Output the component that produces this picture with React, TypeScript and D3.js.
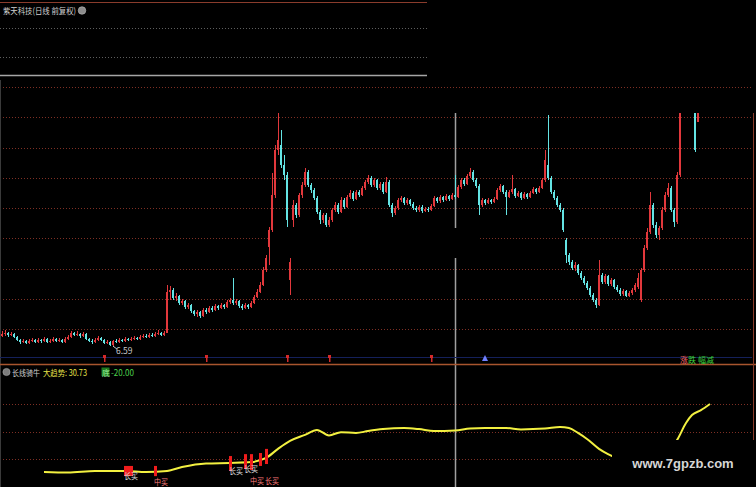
import { useEffect, useRef } from 'react';
import * as d3 from 'd3';

const W = 756;
const H = 487;
const FONT = '"Noto Sans CJK SC", "Noto Sans", sans-serif';

// Daily candles (前复权)
const opens = [
  7.6, 7.8, 7.9, 7.7, 7.8, 7.5, 7.2, 7.0, 7.1, 6.9, 7.1, 7.2, 7.0, 7.2, 7.1, 7.3, 7.0, 7.1, 7.3, 7.1,
  7.2, 7.0, 7.3, 7.5, 7.9, 7.7, 7.8, 7.6, 7.8, 7.3, 7.1, 7.0, 7.2, 7.4, 7.2, 6.9, 7.0, 6.7, 7.1, 7.0,
  7.2, 7.1, 7.3, 7.2, 7.3, 7.4, 7.3, 7.5, 7.6, 7.5, 7.7, 7.6, 7.8, 7.9, 7.7,
  7.9, 12.0, 12.2, 11.4, 11.6, 10.9, 11.1, 10.5, 10.7, 10.1,
  9.8, 10.0, 9.6, 10.2, 10.0, 10.4, 10.2, 10.6, 10.4, 10.7,
  10.5, 11.0, 11.2, 10.9, 11.1, 10.6, 10.4, 10.7, 10.5, 10.9,
  11.5, 12.0, 12.7, 14.2, 16.5, 18.2, 21.7, 26.2, 26.7, 24.7,
  23.7, 13.2, 19.2, 20.7, 19.7, 21.7, 22.7, 24.0, 22.7, 22.2,
  21.4, 20.0, 19.2, 19.7, 18.7, 19.2, 20.2, 20.7, 20.0, 21.2,
  20.5, 21.5, 21.9, 21.3, 22.0, 21.7, 22.4, 23.0, 23.4, 22.7,
  23.2, 22.4, 22.8, 22.0, 23.0, 20.7, 19.9, 20.4, 21.2, 21.4,
  20.9, 21.2, 20.8, 20.4, 20.2, 20.5, 20.1, 20.3, 20.2, 20.6,
  21.4, 21.1, 21.5, 21.2, 21.6, 21.3, 21.7, 21.5, 22.5, 23.2,
  22.8, 23.6, 24.0, 23.2, 22.6, 20.7, 21.2, 20.9, 21.2, 21.0,
  21.3, 22.2, 22.6, 22.0, 21.5, 22.0, 22.3, 21.6, 21.9, 21.4,
  21.8, 21.5, 21.9, 22.3, 22.0, 22.4, 23.2, 24.7, 23.4, 22.0,
  21.4, 20.7, 20.2, 17.2, 15.7, 15.0, 14.4, 14.7, 13.9, 13.4,
  12.9, 12.4, 11.7, 11.2, 10.7, 13.7, 13.0, 13.6, 12.8, 13.2,
  12.5, 12.2, 11.8, 12.1, 11.6, 11.9, 12.2, 12.5, 11.2, 14.2,
  16.4, 18.0, 20.7, 18.7, 17.7, 18.4, 20.2, 21.7, 22.4, 20.2,
  19.0, 23.7, 31.2, 33.2, 34.2, 32.7, 31.2, 29.0,
  31.7, 33.2, 34.2, 35.2,
];

const closes = [
  7.8, 7.9, 7.7, 7.8, 7.5, 7.2, 7.0, 7.1, 6.9, 7.1, 7.2, 7.0, 7.2, 7.1, 7.3, 7.0, 7.1, 7.3, 7.1, 7.2,
  7.0, 7.3, 7.5, 7.9, 7.7, 7.8, 7.6, 7.8, 7.3, 7.1, 7.0, 7.2, 7.4, 7.2, 6.9, 7.0, 6.7, 7.1, 7.0, 7.2,
  7.1, 7.3, 7.2, 7.3, 7.4, 7.3, 7.5, 7.6, 7.5, 7.7, 7.6, 7.8, 7.9, 7.7, 7.9,
  12.0, 12.2, 11.4, 11.6, 10.9, 11.1, 10.5, 10.7, 10.1, 9.8,
  10.0, 9.6, 10.2, 10.0, 10.4, 10.2, 10.6, 10.4, 10.7, 10.5,
  11.0, 11.2, 10.9, 11.1, 10.6, 10.4, 10.7, 10.5, 10.9, 11.5,
  12.0, 12.7, 14.2, 15.4, 18.2, 21.7, 26.2, 27.2, 24.7, 23.7,
  19.2, 15.0, 20.7, 19.7, 21.7, 22.7, 24.0, 22.7, 22.2, 21.4,
  20.0, 19.2, 19.7, 18.7, 19.2, 20.2, 20.7, 20.0, 21.2, 20.5,
  21.5, 21.9, 21.3, 22.0, 21.7, 22.4, 23.0, 23.4, 22.7, 23.2,
  22.4, 22.8, 22.0, 23.0, 20.7, 19.9, 20.4, 21.2, 21.4, 20.9,
  21.2, 20.8, 20.4, 20.2, 20.5, 20.1, 20.3, 20.2, 20.6, 21.4,
  21.1, 21.5, 21.2, 21.6, 21.3, 21.7, 21.5, 22.5, 23.2, 22.8,
  23.6, 24.0, 23.2, 22.6, 20.7, 21.2, 20.9, 21.2, 21.0, 21.3,
  22.2, 22.6, 22.0, 21.5, 22.0, 22.3, 21.6, 21.9, 21.4, 21.8,
  21.5, 21.9, 22.3, 22.0, 22.4, 23.2, 25.2, 23.4, 22.0, 21.4,
  20.7, 20.2, 18.2, 15.7, 15.0, 14.4, 14.7, 13.9, 13.4, 12.9,
  12.4, 11.7, 11.2, 10.7, 13.7, 13.0, 13.6, 12.8, 13.2, 12.5,
  12.2, 11.8, 12.1, 11.6, 11.9, 12.2, 12.7, 13.4, 14.2, 16.4,
  18.0, 20.7, 18.7, 17.7, 18.4, 20.2, 21.7, 22.4, 20.2, 19.0,
  23.7, 30.2, 33.2, 34.2, 32.7, 31.7, 26.2, 31.2,
  33.2, 34.2, 35.2, 34.7,
];

const highs = [
  8.1, 8.2, 8.0, 8.0, 7.9, 7.6, 7.3, 7.3, 7.2, 7.3, 7.4, 7.3, 7.4, 7.3, 7.5, 7.4, 7.3, 7.5, 7.4, 7.4,
  7.3, 7.5, 7.7, 8.1, 8.0, 8.1, 7.9, 8.0, 7.9, 7.4, 7.3, 7.4, 7.6, 7.5, 7.3, 7.2, 7.1, 7.2, 7.3, 7.4,
  7.3, 7.5, 7.4, 7.5, 7.6, 7.5, 7.7, 7.8, 7.8, 7.9, 7.9, 8.0, 8.2, 8.0, 8.1,
  12.7, 12.6, 12.4, 11.9, 11.7, 11.3, 11.2, 10.9, 10.8, 10.2,
  10.2, 10.1, 10.4, 10.4, 10.6, 10.6, 10.8, 10.7, 10.9, 10.8,
  11.2, 11.4, 13.4, 11.3, 11.2, 10.8, 10.9, 10.8, 11.1, 11.7,
  12.3, 13.0, 14.5, 15.7, 18.5, 23.9, 26.7, 29.9, 28.2, 25.7,
  24.0, 15.4, 21.2, 20.9, 21.9, 23.0, 24.4, 24.2, 22.9, 22.4,
  21.6, 20.2, 19.9, 19.9, 19.5, 20.4, 21.0, 20.9, 21.5, 21.4,
  21.7, 22.2, 22.1, 22.2, 22.2, 22.6, 23.2, 23.7, 23.6, 23.4,
  23.3, 23.0, 23.0, 23.5, 23.2, 20.9, 20.6, 21.4, 21.6, 21.5,
  21.4, 21.3, 21.0, 20.6, 20.7, 20.7, 20.5, 20.5, 20.8, 21.6,
  21.5, 21.7, 21.6, 21.8, 21.7, 21.9, 23.7, 22.7, 23.4, 23.4,
  23.8, 24.4, 24.2, 23.4, 22.8, 21.4, 21.3, 21.4, 21.3, 21.5,
  22.4, 22.8, 22.7, 22.2, 22.2, 23.7, 22.4, 22.1, 22.0, 22.0,
  21.9, 22.1, 22.5, 22.4, 22.6, 23.4, 26.2, 29.7, 23.6, 22.2,
  21.6, 20.9, 20.4, 17.4, 15.9, 15.2, 15.0, 14.8, 14.1, 13.6,
  13.1, 12.6, 11.9, 11.4, 15.2, 13.9, 13.8, 13.7, 13.4, 13.3,
  12.7, 12.4, 12.3, 12.2, 12.1, 12.4, 12.9, 13.9, 14.4, 16.7,
  18.4, 22.0, 20.9, 19.0, 18.6, 20.5, 22.0, 22.9, 22.6, 20.4,
  24.0, 30.7, 33.7, 34.7, 34.4, 33.0, 31.7, 31.7,
  33.7, 35.0, 35.7, 36.2,
];

const lows = [
  7.5, 7.6, 7.5, 7.6, 7.4, 7.1, 6.8, 6.9, 6.8, 6.8, 7.0, 6.9, 6.9, 6.9, 7.0, 6.9, 6.9, 7.0, 7.0, 7.0,
  6.9, 6.9, 7.2, 7.4, 7.6, 7.6, 7.4, 7.5, 7.2, 7.0, 6.8, 6.9, 7.1, 7.1, 6.8, 6.8, 6.65, 6.59, 6.9, 6.9,
  7.0, 7.0, 7.1, 7.1, 7.2, 7.2, 7.2, 7.4, 7.4, 7.4, 7.5, 7.5, 7.7, 7.6, 7.6,
  7.9, 11.2, 11.2, 11.1, 10.7, 10.7, 10.3, 10.3, 9.9, 9.6,
  9.5, 9.4, 9.5, 9.8, 9.9, 10.0, 10.1, 10.2, 10.3, 10.3,
  10.4, 10.8, 10.7, 10.7, 10.4, 10.2, 10.3, 10.3, 10.4, 10.8,
  11.4, 11.9, 12.6, 14.0, 14.7, 18.0, 21.4, 25.7, 24.4, 23.2,
  18.5, 11.7, 18.5, 19.4, 19.5, 21.4, 22.5, 22.5, 21.9, 21.2,
  19.8, 18.8, 18.9, 18.5, 18.5, 19.0, 20.0, 19.8, 19.9, 20.3,
  20.4, 21.3, 21.1, 21.2, 21.5, 21.6, 22.2, 22.8, 22.5, 22.5,
  22.2, 22.2, 21.8, 21.9, 20.5, 19.5, 19.7, 20.2, 21.0, 20.7,
  20.7, 20.6, 20.2, 20.0, 20.0, 19.9, 20.0, 20.0, 20.1, 20.5,
  20.9, 20.9, 21.0, 21.1, 21.1, 21.2, 21.3, 21.4, 22.3, 22.6,
  22.7, 23.4, 23.0, 22.4, 19.7, 20.5, 20.7, 20.8, 20.8, 20.9,
  21.2, 22.0, 21.8, 19.7, 21.4, 21.8, 21.4, 21.5, 21.2, 21.3,
  21.3, 21.4, 21.8, 21.8, 21.9, 22.3, 23.0, 23.2, 21.8, 21.2,
  20.5, 20.0, 18.0, 14.9, 14.7, 14.2, 14.1, 13.7, 13.2, 12.7,
  12.2, 11.5, 11.0, 10.4, 10.6, 12.8, 12.8, 12.6, 12.6, 12.3,
  12.0, 11.6, 11.6, 11.5, 11.5, 11.7, 12.0, 12.3, 11.0, 14.0,
  16.2, 17.8, 18.4, 17.4, 17.2, 18.2, 20.0, 21.5, 20.0, 18.5,
  18.8, 23.5, 30.7, 32.7, 32.3, 31.2, 26.0, 29.0,
  31.2, 32.4, 33.4, 33.9,
];

// 长线骑牛 indicator: 大趋势 line, sampled at bar indices
const trendIdx = [
  14, 22, 31, 41, 48, 55, 60, 68, 76, 83, 88, 92, 96, 101, 105, 109, 113, 118, 122, 127,
  134, 139, 144, 151, 156, 161, 168, 173, 181, 186, 189, 192, 195, 199, 202, 205, 210, 215, 220, 225,
  228, 230, 233, 236,
];
const trendVals = [
  6.0, 5.8, 6.4, 6.4, 6.0, 6.4, 7.8, 9.1, 9.3, 9.6, 11.1, 14.4, 17.3, 19.5, 21.3, 19.3, 20.5, 20.2, 20.9, 21.6,
  22.0, 21.6, 20.9, 21.1, 21.8, 22.0, 22.0, 21.5, 21.8, 22.4, 22.0, 20.2, 18.0, 14.4, 12.5, 11.1, 9.6, 9.6, 12.2, 17.6,
  23.8, 26.7, 28.5, 30.73,
];

// buy signals (sticks + text)
const signalIdx = [41, 42, 43, 51, 76, 81, 83, 86, 88];
const signalTop = [8.2, 8.2, 8.2, 8.2, 11.8, 12.5, 12.5, 12.9, 14.4];
const signalBottom = [4.5, 4.5, 4.5, 4.5, 6.4, 7.1, 6.7, 8.2, 8.9];
const signalLabels = ['长买', '', '', '中买', '长买', '长买', '中买', '', '长买'];

// info markers under the price pane
const markerIdx = [34, 68, 95, 109, 143];
const blueMarkerIdx = [161];

const TITLE = '紫天科技(日线 前复权)';
const IND_NAME = '长线骑牛';
const TREND_NAME = '大趋势';
const FLOOR_NAME = '底';
const FLOOR_VALUE = -20;
const WATERMARK = 'www.7gpzb.com';

const UP = '#e2383c';
const DOWN = '#64e4e4';
const GRID = '#7e2f24';
const LABEL_WHITE = '#e4e4e4';
const LABEL_PINK = '#ff7c7c';

export default function App() {
  const svgRef = useRef<SVGSVGElement>(null);

  useEffect(() => {
    if (!svgRef.current) return;
    const svg = d3.select(svgRef.current);
    svg.selectAll('*').remove();

    const n = closes.length;
    const x = d3.scaleLinear().domain([0, n - 1]).range([2, 710]);
    const yPrice = d3.scaleLinear().domain([6.6, 29.9]).range([346, 113]);
    const yTrend = d3.scaleLinear().domain([0, 40]).range([488.5, 378.5]);

    svg.append('rect').attr('width', W).attr('height', H).attr('fill', '#000');

    const hline = (y: number, x1: number, x2: number, color: string, dash?: string, sw = 1) => {
      const l = svg.append('line')
        .attr('x1', x1).attr('x2', x2)
        .attr('y1', Math.round(y) + 0.5).attr('y2', Math.round(y) + 0.5)
        .attr('stroke', color).attr('stroke-width', sw);
      if (dash) l.attr('stroke-dasharray', dash);
      return l;
    };

    // top-left overlapped window strip
    hline(2, 0, 427, '#8a3c2c');
    hline(28, 0, 427, '#5e5e5e', '1,2');
    hline(57, 0, 427, '#5e5e5e', '1,2');
    hline(75, 0, 427, '#a6a6a6', undefined, 1.5);

    // price pane grid
    const priceGrid = d3.range(9).map((i) => 87 + i * 30.25);
    priceGrid.forEach((gy, k) => {
      const spans = k === 5 ? [[0, 268], [480, 752]] : [[0, 752]];
      spans.forEach(([a, b]) => hline(gy, a, b, GRID, '1,2'));
    });

    // indicator pane grid
    [404, 432, 459].forEach((gy) => hline(gy, 0, 752, GRID, '1,2'));

    // left edge
    svg.append('line').attr('x1', 0.5).attr('x2', 0.5).attr('y1', 80).attr('y2', H)
      .attr('stroke', '#3a3a3a');

    // cursor line
    const cx = 455.5;
    [[113, 228], [258, H]].forEach(([a, b]) => {
      svg.append('line').attr('x1', cx).attr('x2', cx).attr('y1', a).attr('y2', b)
        .attr('stroke', '#a0a0a0').attr('stroke-width', 1.5);
    });

    // candles
    svg.append('defs').append('clipPath').attr('id', 'price-clip')
      .append('rect').attr('x', 0).attr('y', 113).attr('width', 752).attr('height', 240);
    const cg = svg.append('g').attr('clip-path', 'url(#price-clip)').attr('shape-rendering', 'crispEdges');
    d3.range(n).forEach((i) => {
      const xc = Math.round(x(i));
      const up = closes[i] >= opens[i];
      const color = up ? UP : DOWN;
      cg.append('line')
        .attr('x1', xc + 0.5).attr('x2', xc + 0.5)
        .attr('y1', yPrice(highs[i])).attr('y2', yPrice(lows[i]))
        .attr('stroke', color).attr('stroke-width', 1);
      const top = yPrice(Math.max(opens[i], closes[i]));
      const bot = yPrice(Math.min(opens[i], closes[i]));
      cg.append('rect')
        .attr('x', xc - 1).attr('width', 2)
        .attr('y', top).attr('height', Math.max(1, bot - top))
        .attr('fill', color);
    });

    // lowest price annotation
    const li = d3.minIndex(lows);
    const lx = x(li);
    const ly = yPrice(lows[li]);
    svg.append('line').attr('x1', lx).attr('y1', ly).attr('x2', lx + 4).attr('y2', ly + 3)
      .attr('stroke', '#c8c8c8');
    svg.append('text').attr('x', lx + 3).attr('y', ly + 8)
      .attr('font-family', FONT).attr('font-size', 8.5).attr('fill', '#c8c8c8')
      .text(lows[li].toFixed(2));

    // marker row
    hline(356.5, 0, 752, '#14205a');
    markerIdx.forEach((i) => {
      const mx = Math.round(x(i));
      svg.append('rect').attr('x', mx - 1).attr('y', 355).attr('width', 3).attr('height', 3).attr('fill', '#d42a2a');
      svg.append('rect').attr('x', mx).attr('y', 357).attr('width', 1.5).attr('height', 5).attr('fill', '#d42a2a');
    });
    blueMarkerIdx.forEach((i) => {
      const mx = x(i);
      svg.append('path')
        .attr('d', `M${mx},355 L${mx + 3},361 L${mx - 3},361 Z`)
        .attr('fill', '#7080ff');
    });

    // pane separator and right edge
    hline(364, 0, W, '#a8552e', undefined, 1.5);
    svg.append('line').attr('x1', 753.5).attr('x2', 753.5).attr('y1', 113).attr('y2', 440)
      .attr('stroke', '#8a3a28');

    // indicator line
    const line = d3.line<number>()
      .x((_, k) => x(trendIdx[k]))
      .y((d) => yTrend(d))
      .curve(d3.curveMonotoneX);
    svg.append('path').attr('d', line(trendVals) as string)
      .attr('fill', 'none').attr('stroke', '#f2f040').attr('stroke-width', 2);

    // signal sticks
    signalIdx.forEach((i, k) => {
      const sx = Math.round(x(i));
      const t = yTrend(signalTop[k]);
      const b = yTrend(signalBottom[k]);
      svg.append('rect').attr('x', sx - 1).attr('y', t).attr('width', 3).attr('height', b - t)
        .attr('fill', '#f01c1c');
    });

    // signal texts: white row sits on the sticks, pink row just below
    let lastWhiteEnd = -Infinity;
    let lastPinkEnd = -Infinity;
    signalIdx.forEach((i, k) => {
      const label = signalLabels[k];
      if (!label) return;
      const sx = Math.round(x(i)) - 1;
      const b = yTrend(signalBottom[k]);
      const pink = label === '中买' || k === signalIdx.length - 1;
      const tx = pink ? Math.max(sx, lastPinkEnd + 1) : Math.max(sx, lastWhiteEnd + 1);
      const ty = pink ? Math.max(b + 9, 483.5) : b + 3;
      const width = 14;
      if (pink) lastPinkEnd = tx + width; else lastWhiteEnd = tx + width;
      svg.append('text').attr('x', tx).attr('y', ty)
        .attr('font-family', FONT).attr('font-size', 7.5)
        .attr('textLength', width).attr('lengthAdjust', 'spacingAndGlyphs')
        .attr('fill', pink ? LABEL_PINK : LABEL_WHITE)
        .text(label);
    });

    // titles
    svg.append('text').attr('x', 3).attr('y', 14)
      .attr('font-family', FONT).attr('font-size', 8.5).attr('fill', '#d2d2d2')
      .attr('textLength', 73).attr('lengthAdjust', 'spacingAndGlyphs')
      .text(TITLE);
    svg.append('circle').attr('cx', 82).attr('cy', 10.5).attr('r', 3.8)
      .attr('fill', '#8c8c8c').attr('stroke', '#bbb').attr('stroke-width', 0.6);

    svg.append('circle').attr('cx', 6.5).attr('cy', 372).attr('r', 3.6)
      .attr('fill', '#7c7c7c').attr('stroke', '#aaa').attr('stroke-width', 0.6);
    svg.append('text').attr('x', 12).attr('y', 375.5)
      .attr('font-family', FONT).attr('font-size', 8.5).attr('fill', '#cfcfcf')
      .attr('textLength', 28).attr('lengthAdjust', 'spacingAndGlyphs')
      .text(IND_NAME);
    svg.append('text').attr('x', 43).attr('y', 375.5)
      .attr('font-family', FONT).attr('font-size', 8.5).attr('fill', '#e8e24a')
      .attr('textLength', 44).attr('lengthAdjust', 'spacingAndGlyphs')
      .text(`${TREND_NAME}: ${trendVals[trendVals.length - 1].toFixed(2)}`);
    svg.append('rect').attr('x', 101.5).attr('y', 367.5).attr('width', 8).attr('height', 8.5)
      .attr('fill', '#1f7a1f');
    svg.append('text').attr('x', 102).attr('y', 375.5)
      .attr('font-family', FONT).attr('font-size', 8).attr('fill', '#9cf09c')
      .text(FLOOR_NAME);
    svg.append('text').attr('x', 111).attr('y', 375.5)
      .attr('font-family', FONT).attr('font-size', 8.5).attr('fill', '#4cd24c')
      .attr('textLength', 23).attr('lengthAdjust', 'spacingAndGlyphs')
      .text(FLOOR_VALUE.toFixed(2));

    const tag = svg.append('text').attr('x', 680).attr('y', 362.5)
      .attr('font-family', FONT).attr('font-size', 8);
    tag.append('tspan').attr('fill', '#ff6a6a').text('涨');
    tag.append('tspan').attr('fill', '#3ccf3c').text('跌');
    tag.append('tspan').attr('fill', '#3ccf3c').attr('dx', 2).text('幅减');

    // watermark box
    svg.append('rect').attr('x', 612).attr('y', 440).attr('width', W - 612).attr('height', H - 440)
      .attr('fill', '#000');
    svg.append('text').attr('x', 683).attr('y', 468).attr('text-anchor', 'middle')
      .attr('font-family', 'Arial, "Liberation Sans", sans-serif').attr('font-size', 13)
      .attr('font-weight', 700).attr('fill', '#d6d6d6')
      .text(WATERMARK);
  }, []);

  return (
    <svg
      ref={svgRef}
      width={W}
      height={H}
      style={{ position: 'fixed', left: 0, top: 0, background: '#000' }}
    />
  );
}
